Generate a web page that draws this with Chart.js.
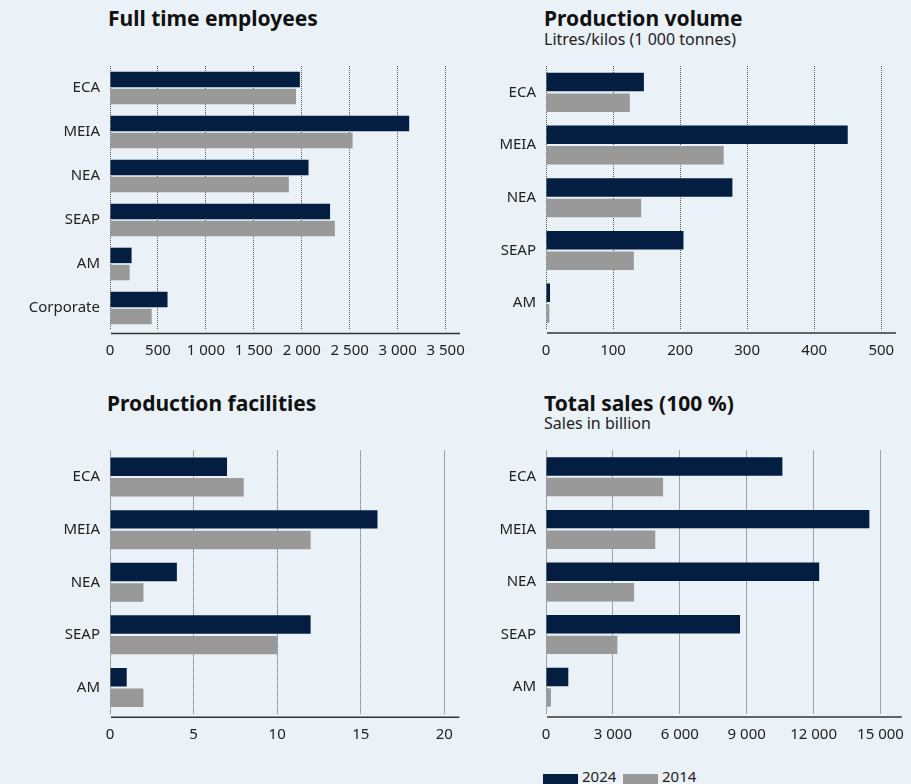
<!DOCTYPE html>
<html><head><meta charset="utf-8">
<script src="https://cdn.jsdelivr.net/npm/chart.js@4.4.1/dist/chart.umd.min.js"></script>
<style>
html,body{margin:0;padding:0;background:#eaf1f7;}
body{width:911px;height:784px;position:relative;overflow:hidden;font-family:"Noto Sans",sans-serif;}
.t{position:absolute;font-weight:700;font-size:21px;line-height:21px;color:#111;white-space:nowrap}
.s{position:absolute;font-size:16px;line-height:16px;color:#222;white-space:nowrap}
.l{position:absolute;font-size:15px;line-height:15px;color:#222;white-space:nowrap}
canvas{position:absolute}
.lg{position:absolute;top:774px;width:35px;height:12px}
</style></head><body>
<div class="t" style="left:108px;top:8px">Full time employees</div>
<div class="t" style="left:544px;top:8px">Production volume</div>
<div class="s" style="left:544px;top:31px">Litres/kilos (1 000 tonnes)</div>
<div class="t" style="left:107px;top:393px">Production facilities</div>
<div class="t" style="left:544px;top:393px">Total sales (100 %)</div>
<div class="s" style="left:544px;top:415px">Sales in billion</div>
<canvas id="c1" width="470" height="310" style="left:0;top:60px"></canvas>
<canvas id="c2" width="441" height="310" style="left:470px;top:60px"></canvas>
<canvas id="c3" width="470" height="310" style="left:0;top:440px"></canvas>
<canvas id="c4" width="441" height="310" style="left:470px;top:440px"></canvas>
<div id="legend"></div>
<script>
const seriesLabels = ['2024', '2014'];
const seriesColors = ['#041e42', '#999999'];

const categoriesEmployees = ['ECA', 'MEIA', 'NEA', 'SEAP', 'AM', 'Corporate'];
const employees2024 = [1980, 3120, 2070, 2295, 225, 600];
const employees2014 = [1940, 2530, 1865, 2345, 205, 435];
const ticksEmployees = [0, 500, 1000, 1500, 2000, 2500, 3000, 3500];

const categoriesRegions = ['ECA', 'MEIA', 'NEA', 'SEAP', 'AM'];
const volume2024 = [146, 450, 278, 205, 6];
const volume2014 = [125, 265, 142, 131, 5];
const ticksVolume = [0, 100, 200, 300, 400, 500];

const facilities2024 = [7, 16, 4, 12, 1];
const facilities2014 = [8, 12, 2, 10, 2];
const ticksFacilities = [0, 5, 10, 15, 20];

const sales2024 = [10600, 14500, 12250, 8700, 1000];
const sales2014 = [5250, 4900, 3950, 3200, 220];
const ticksSales = [0, 3000, 6000, 9000, 12000, 15000];

const fmt = v => String(v).replace(/\B(?=(\d{3})+(?!\d))/g, ' ');

const axisLine = {
  id: 'axisLine',
  afterDraw(chart) {
    const {ctx, chartArea: a} = chart;
    ctx.save();
    ctx.strokeStyle = '#333';
    ctx.lineWidth = 1.5;
    ctx.beginPath();
    ctx.moveTo(a.left + 1, a.bottom + 3.5);
    ctx.lineTo(a.right, a.bottom + 3.5);
    ctx.stroke();
    ctx.restore();
  }
};

const noPad = s => { s.paddingLeft = 0; s.paddingRight = 0; s.paddingTop = 0; s.paddingBottom = 0; };

function makeChart(id, cats, d24, d14, tickVals, max, geo) {
  new Chart(document.getElementById(id), {
    type: 'bar',
    data: {
      labels: cats,
      datasets: [
        {label: seriesLabels[0], data: d24, backgroundColor: seriesColors[0]},
        {label: seriesLabels[1], data: d14, backgroundColor: seriesColors[1]}
      ]
    },
    options: {
      indexAxis: 'y',
      responsive: false,
      animation: false,
      devicePixelRatio: 1,
      categoryPercentage: 0.78,
      barPercentage: 0.9,
      layout: {padding: {top: geo.top, right: geo.right, bottom: 0, left: 0}},
      plugins: {legend: {display: false}, tooltip: {enabled: false}},
      scales: {
        x: {
          min: 0, max: max,
          afterBuildTicks: s => { s.ticks = tickVals.map(v => ({value: v})); },
          afterFit: s => { s.height = geo.xh; noPad(s); },
          grid: {color: '#555', lineWidth: 1, drawTicks: false},
          border: {display: false, dash: [1, 1]},
          ticks: {padding: 12, color: '#222', font: {family: 'Noto Sans', size: 15}, callback: v => fmt(v), maxRotation: 0, autoSkip: false}
        },
        y: {
          afterFit: s => { s.width = geo.yw; noPad(s); },
          grid: {display: false, drawTicks: false},
          border: {display: false},
          ticks: {padding: 10, color: '#222', font: {family: 'Noto Sans', size: 15}}
        }
      }
    },
    plugins: [axisLine]
  });
}

makeChart('c1', categoriesEmployees, employees2024, employees2014, ticksEmployees, 3650, {top: 6, right: 10, xh: 40, yw: 110});
makeChart('c2', categoriesRegions, volume2024, volume2014, ticksVolume, 522, {top: 6, right: 15, xh: 40.5, yw: 76});
makeChart('c3', categoriesRegions, facilities2024, facilities2014, ticksFacilities, 20.9, {top: 10.7, right: 10.6, xh: 36.2, yw: 110});
makeChart('c4', categoriesRegions, sales2024, sales2014, ticksSales, 15950, {top: 10.5, right: 9.3, xh: 36.5, yw: 76});

const lg = document.getElementById('legend');
const lx = [[543, 582], [623, 662]];
seriesLabels.forEach((l, i) => {
  const b = document.createElement('div');
  b.className = 'lg';
  b.style.left = lx[i][0] + 'px';
  b.style.background = seriesColors[i];
  lg.appendChild(b);
  const t = document.createElement('div');
  t.className = 'l';
  t.style.left = lx[i][1] + 'px';
  t.style.top = '769px';
  t.textContent = l;
  lg.appendChild(t);
});
</script>
</body></html>
